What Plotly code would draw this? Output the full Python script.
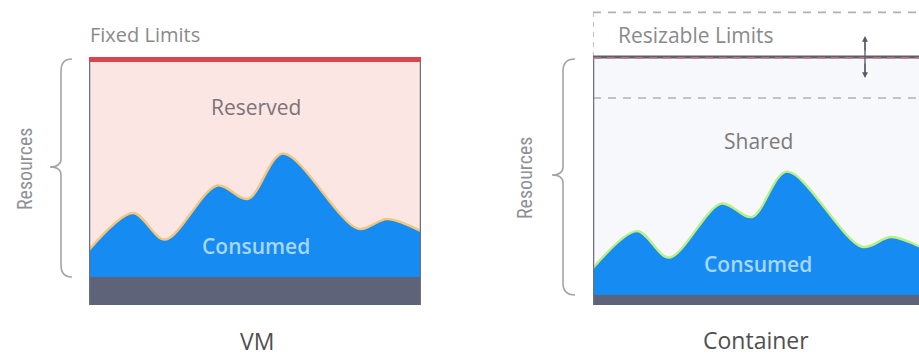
import plotly.graph_objects as go

# ---- data ----
time_points = [0, 13.3, 22.9, 38.6, 47.9, 58.4, 81.0, 89.8, 100]
consumed = [10.9, 25.8, 15.1, 36.9, 31.5, 49.8, 19.5, 23.4, 18.5]
vm_base = 11.3
container_base = 4.0
vm_limit = 100
container_limit = 100
container_limit_high = 118
container_limit_low = 83.5

W, H = 919, 358
FONT = "Open Sans"
NARROW = "Liberation Sans Narrow, Roboto Condensed, Open Sans"

fig = go.Figure()

ymax = 123
dom_y = [53 / H, 1]

fig.update_layout(
    width=W, height=H, margin=dict(l=0, r=0, t=0, b=0),
    paper_bgcolor="white", plot_bgcolor="rgba(0,0,0,0)",
    showlegend=False,
    xaxis=dict(domain=[89 / W, 421 / W], range=[0, 100], visible=False, fixedrange=True),
    yaxis=dict(domain=dom_y, range=[0, ymax], visible=False, fixedrange=True),
    xaxis2=dict(domain=[593 / W, 1], range=[0, 326 / 3.32], visible=False, anchor="y2", fixedrange=True),
    yaxis2=dict(domain=dom_y, range=[0, ymax], visible=False, anchor="x2", fixedrange=True),
    xaxis3=dict(domain=[0, 1], range=[0, W], visible=False, anchor="y3", fixedrange=True),
    yaxis3=dict(domain=[0, 1], range=[H, 0], visible=False, anchor="x3", fixedrange=True),
)

# ---- VM panel ----
fig.add_trace(go.Scatter(x=[0, 100], y=[vm_limit, vm_limit], mode="lines",
                         line=dict(width=0), fill="tozeroy", fillcolor="#fbe6e4",
                         xaxis="x", yaxis="y", hoverinfo="skip"))
vm_y = [vm_base + c for c in consumed]
fig.add_trace(go.Scatter(x=time_points, y=vm_y, mode="lines",
                         line=dict(color="#f1c77f", width=2.4, shape="spline", smoothing=0.9),
                         fill="tozeroy", fillcolor="#168bf2",
                         xaxis="x", yaxis="y", hoverinfo="skip"))
fig.add_trace(go.Scatter(x=[0, 100], y=[vm_base, vm_base], mode="lines",
                         line=dict(width=0), fill="tozeroy", fillcolor="#5e6379",
                         xaxis="x", yaxis="y", hoverinfo="skip"))
for xv in [0, 100]:
    fig.add_trace(go.Scatter(x=[xv, xv], y=[0, vm_limit], mode="lines",
                             line=dict(color="#6c6f80", width=2.5),
                             xaxis="x", yaxis="y", hoverinfo="skip"))
fig.add_trace(go.Scatter(x=[0, 100], y=[vm_limit - 1, vm_limit - 1], mode="lines",
                         line=dict(color="#d9474d", width=5),
                         xaxis="x", yaxis="y", hoverinfo="skip"))

# ---- Container panel ----
fig.add_trace(go.Scatter(x=[0, 110], y=[container_limit, container_limit], mode="lines",
                         line=dict(width=0), fill="tozeroy", fillcolor="#f7f8fb",
                         xaxis="x2", yaxis="y2", hoverinfo="skip"))
c_y = [container_base + c for c in consumed]
fig.add_trace(go.Scatter(x=time_points, y=c_y, mode="lines",
                         line=dict(color="#b9ef86", width=2.4, shape="spline", smoothing=0.9),
                         fill="tozeroy", fillcolor="#168bf2",
                         xaxis="x2", yaxis="y2", hoverinfo="skip"))
fig.add_trace(go.Scatter(x=[0, 110], y=[container_base, container_base], mode="lines",
                         line=dict(width=0), fill="tozeroy", fillcolor="#5e6379",
                         xaxis="x2", yaxis="y2", hoverinfo="skip"))
for yv in [container_limit_high, container_limit_low]:
    fig.add_trace(go.Scatter(x=[0, 110], y=[yv, yv], mode="lines",
                             line=dict(color="#b0b1b8", width=1.6, dash="8px,7px"),
                             xaxis="x2", yaxis="y2", hoverinfo="skip"))
fig.add_trace(go.Scatter(x=[0, 0], y=[container_limit, container_limit_high], mode="lines",
                         line=dict(color="#b0b1b8", width=1.6, dash="5px,5px"),
                         xaxis="x2", yaxis="y2", hoverinfo="skip"))
fig.add_trace(go.Scatter(x=[0, 0], y=[0, container_limit], mode="lines",
                         line=dict(color="#6c6f80", width=2.5),
                         xaxis="x2", yaxis="y2", hoverinfo="skip"))
fig.add_trace(go.Scatter(x=[0, 110], y=[container_limit, container_limit], mode="lines",
                         line=dict(color="#5f5f6a", width=3),
                         xaxis="x2", yaxis="y2", hoverinfo="skip"))
fig.add_trace(go.Scatter(x=[0, 110], y=[container_limit - 0.4, container_limit - 0.4], mode="lines",
                         line=dict(color="#c97a80", width=1.5, dash="8px,6px"),
                         xaxis="x2", yaxis="y2", hoverinfo="skip"))

# ---- braces ----
def brace(x_tip, x_line, x_end, y_top, y_mid, y_bot):
    r = 12
    return (f"M {x_end},{y_top} Q {x_line},{y_top} {x_line},{y_top + r} "
            f"L {x_line},{y_mid - 8} Q {x_line},{y_mid} {x_tip},{y_mid} "
            f"Q {x_line},{y_mid} {x_line},{y_mid + 8} "
            f"L {x_line},{y_bot - r} Q {x_line},{y_bot} {x_end},{y_bot}")

shapes = [
    dict(type="path", path=brace(50, 61, 72, 59, 167, 277), xref="x3", yref="y3",
         line=dict(color="#a3a4ab", width=1.6)),
    dict(type="path", path=brace(552, 563, 575, 59, 175, 295), xref="x3", yref="y3",
         line=dict(color="#a3a4ab", width=1.6)),
    dict(type="line", x0=865, x1=865, y0=40, y1=74, xref="x3", yref="y3",
         line=dict(color="#555a66", width=1.3)),
]
fig.update_layout(shapes=shapes)

def txt(x, y, s, size, color, xanchor="center", angle=0, weight="normal", family=FONT):
    fig.add_annotation(x=x, y=y, xref="x3", yref="y3", text=s, showarrow=False,
                       xanchor=xanchor, yanchor="middle", textangle=angle,
                       font=dict(size=size, color=color, family=family, weight=weight))

txt(88, 34, "Fixed Limits", 20, "#8a8a8a", xanchor="left")
txt(256, 107, "Reserved", 21, "#7b7476")
txt(256, 246, "Consumed", 21, "#a8d8ff", weight=600)
txt(25, 169, "Resources", 20, "#8f9096", angle=-90, family=NARROW)
txt(257, 341, "VM", 23, "#505050")

txt(616, 35, "Resizable Limits", 21, "#8a8a8a", xanchor="left")
txt(758, 141, "Shared", 21, "#7b7b7b")
txt(758, 264, "Consumed", 21, "#a8d8ff", weight=600)
txt(525, 178, "Resources", 20, "#8f9096", angle=-90, family=NARROW)
txt(756, 340, "Container", 23, "#505050")

for y_head, y_tail in [(36, 52), (78, 62)]:
    fig.add_annotation(x=865, y=y_head, ax=865, ay=y_tail, xref="x3", yref="y3",
                       axref="x3", ayref="y3", showarrow=True, arrowhead=2,
                       arrowsize=0.9, arrowwidth=1.3, arrowcolor="#555a66", text="")

fig.write_html("out.html", config={"displayModeBar": False},
               post_script="document.body.style.margin='0';")
